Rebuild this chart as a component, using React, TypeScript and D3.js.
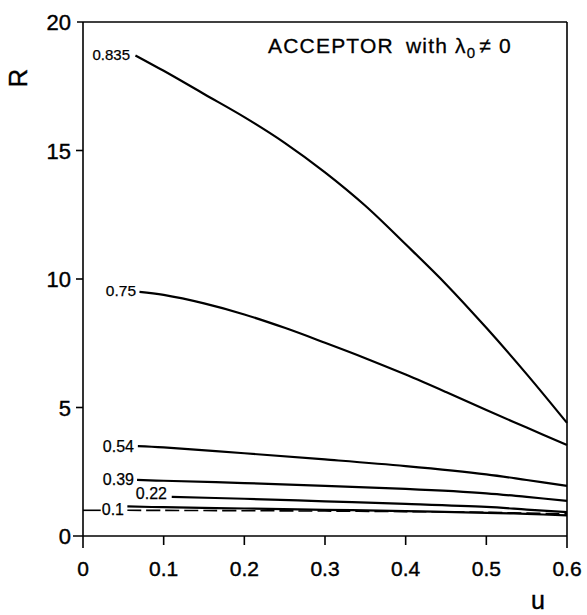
import React from "react";
import * as d3 from "d3";

const xTicks = [0, 0.1, 0.2, 0.3, 0.4, 0.5, 0.6];
const yTicks = [0, 5, 10, 15, 20];
const xTickLabels = ["0", "0.1", "0.2", "0.3", "0.4", "0.5", "0.6"];
const yTickLabels = ["0", "5", "10", "15", "20"];

const curveNames = ["0.835", "0.75", "0.54", "0.39", "0.22", "0.1"];
const uValues835 = [0.065, 0.1, 0.15, 0.2, 0.25, 0.3, 0.35, 0.4, 0.45, 0.5, 0.55, 0.6];
const rValues835 = [18.7, 18.1, 17.2, 16.3, 15.3, 14.15, 12.85, 11.35, 9.8, 8.1, 6.3, 4.4];
const uValues75 = [0.07, 0.1, 0.15, 0.2, 0.25, 0.3, 0.35, 0.4, 0.45, 0.5, 0.55, 0.6];
const rValues75 = [9.5, 9.38, 9.05, 8.62, 8.1, 7.52, 6.92, 6.28, 5.6, 4.9, 4.22, 3.54];
const uValues54 = [0.068, 0.1, 0.2, 0.3, 0.4, 0.5, 0.55, 0.6];
const rValues54 = [3.5, 3.45, 3.22, 2.98, 2.72, 2.4, 2.18, 1.95];
const uValues39 = [0.067, 0.1, 0.2, 0.3, 0.4, 0.5, 0.55, 0.6];
const rValues39 = [2.18, 2.15, 2.06, 1.95, 1.83, 1.66, 1.52, 1.37];
const uValues22 = [0.11, 0.2, 0.3, 0.4, 0.5, 0.55, 0.6];
const rValues22 = [1.52, 1.45, 1.35, 1.25, 1.13, 1.03, 0.93];
const uValues01 = [0.055, 0.1, 0.2, 0.3, 0.4, 0.5, 0.55, 0.6];
const rValues01 = [1.15, 1.12, 1.07, 1.02, 0.97, 0.9, 0.86, 0.8];
const uRefLine = [0.055, 0.3, 0.5, 0.6];
const rRefLine = [1.0, 0.97, 0.92, 0.86];

const seriesU = [uValues835, uValues75, uValues54, uValues39, uValues22, uValues01];
const seriesR = [rValues835, rValues75, rValues54, rValues39, rValues22, rValues01];

export default function App() {
  const W = 587, H = 615;
  const x = d3.scaleLinear().domain([0, 0.6]).range([83, 567]);
  const y = d3.scaleLinear().domain([0, 20]).range([536, 22]);
  const line = d3
    .line<[number, number]>()
    .x((d) => x(d[0]))
    .y((d) => y(d[1]))
    .curve(d3.curveCatmullRom.alpha(0.5));
  const font = "'Liberation Sans', Arial, sans-serif";

  const labelPos: { [k: string]: [number, number, number] } = {
    "0.835": [130, 18.75, 15],
    "0.75": [136, 9.55, 15.5],
    "0.54": [134, 3.5, 16],
    "0.39": [134, 2.2, 16],
    "0.22": [167, 1.65, 16],
    "0.1": [124, 1.05, 16],
  };

  return (
    <svg width={W} height={H} style={{ position: "absolute", left: 0, top: 0, background: "#fff" }}>
      <rect width={W} height={H} fill="#fff" />
      {/* frame */}
      <g stroke="#000" strokeWidth={1.6} fill="none">
        <line x1={x(0)} x2={x(0)} y1={y(20)} y2={548} />
        <line x1={x(0.6)} x2={x(0.6)} y1={y(20)} y2={548} />
        <line x1={x(0) - 6} x2={x(0.6)} y1={y(20)} y2={y(20)} />
        <line x1={x(0) - 10} x2={x(0.6)} y1={y(0)} y2={y(0)} />
        {yTicks.slice(1, 4).map((t) => (
          <line key={t} x1={x(0) - 7} x2={x(0)} y1={y(t)} y2={y(t)} />
        ))}
        {xTicks.slice(1, 6).map((t) => (
          <line key={t} x1={x(t)} x2={x(t)} y1={y(0)} y2={y(0) + 9} />
        ))}
      </g>
      {/* tick labels */}
      <g fontFamily={font} fontSize={21} fill="#000" stroke="#000" strokeWidth={0.4}>
        {xTicks.map((t, i) => (
          <text key={t} x={x(t)} y={576} textAnchor="middle">
            {xTickLabels[i]}
          </text>
        ))}
        {yTicks.map((t, i) => (
          <text key={t} x={71} y={y(t) + 8} textAnchor="end" fontSize={22}>
            {yTickLabels[i]}
          </text>
        ))}
      </g>
      {/* axis titles */}
      <text
        fontFamily={font}
        fontSize={26}
        stroke="#000"
        strokeWidth={0.4}
        transform="translate(27,78) rotate(-90)"
        textAnchor="middle"
      >
        R
      </text>
      <text fontFamily={font} fontSize={25} stroke="#000" strokeWidth={0.4} x={538} y={609} textAnchor="middle">
        u
      </text>
      {/* title */}
      <text fontFamily={font} fontSize={21} x={268} y={53} stroke="#000" strokeWidth={0.3} letterSpacing={1.2}>
        ACCEPTOR
        <tspan dx={12}>with λ</tspan>
        <tspan fontSize={15} dy={5}>0</tspan>
        <tspan dy={-5} dx={3}>≠ 0</tspan>
      </text>
      {/* curves */}
      <g fill="none" stroke="#000" strokeWidth={2.2}>
        {seriesU.map((us, i) => (
          <path key={curveNames[i]} d={line(us.map((u, j) => [u, seriesR[i][j]]) as [number, number][]) || ""} />
        ))}
        <path
          d={line(uRefLine.map((u, j) => [u, rRefLine[j]]) as [number, number][]) || ""}
          strokeDasharray="14 5"
          strokeWidth={1.6}
        />
        <line x1={x(0)} x2={x(0.022)} y1={y(1)} y2={y(1)} strokeWidth={1.6} />
      </g>
      {/* curve labels */}
      <g fontFamily={font} fill="#000" stroke="#000" strokeWidth={0.25}>
        {curveNames.map((n) => (
          <text
            key={n}
            x={labelPos[n][0]}
            y={y(labelPos[n][1]) + 5.5}
            textAnchor="end"
            fontSize={labelPos[n][2]}
          >
            {n}
          </text>
        ))}
      </g>
    </svg>
  );
}
